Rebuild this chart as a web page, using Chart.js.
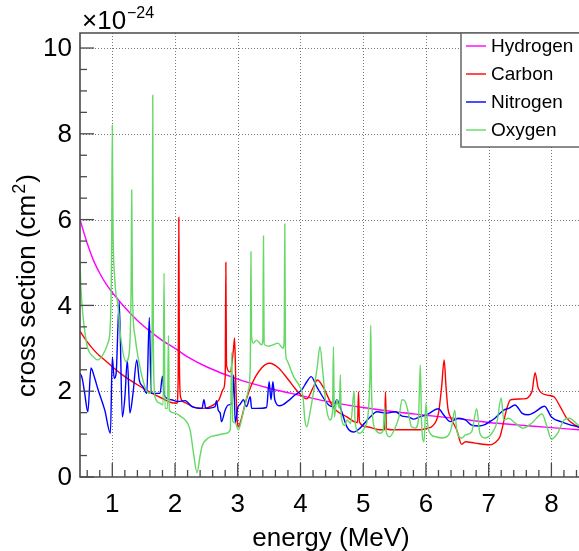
<!DOCTYPE html>
<html>
<head>
<meta charset="utf-8">
<script src="https://cdn.jsdelivr.net/npm/chart.js@4"></script>
<style>
  html, body { margin: 0; padding: 0; background: #fff; }
  canvas { display: block; }
</style>
</head>
<body>
<canvas id="grafico" width="579" height="551"></canvas>
<script>
// valores (energia em MeV, secao de choque em 1e-24 cm2)
const seriesNames = ["Hydrogen", "Carbon", "Nitrogen", "Oxygen"];
const seriesColors = ["#ff00ff", "#ff0000", "#0000ff", "#66d866"];

const energyH = [0.485, 0.6, 0.7, 0.8, 0.9, 1.0, 1.2, 1.4, 1.6, 1.8, 2.0, 2.2, 2.5, 3.0, 3.5, 4.0, 4.5, 5.0, 5.5, 6.0, 6.5, 7.0, 7.5, 8.0, 8.44];
const hydrogen = [6.0, 5.45, 5.05, 4.75, 4.5, 4.3, 3.95, 3.65, 3.4, 3.18, 3.0, 2.8, 2.57, 2.28, 2.07, 1.9, 1.74, 1.62, 1.52, 1.44, 1.36, 1.27, 1.21, 1.15, 1.1];

const energyC = [0.485, 0.6, 0.7, 0.8, 0.9, 1.0, 1.2, 1.4, 1.6, 1.8, 1.95, 2.03, 2.05, 2.06, 2.07, 2.09, 2.15, 2.3, 2.45, 2.6, 2.7, 2.77, 2.8, 2.81, 2.82, 2.88, 2.93, 2.95, 2.97, 2.99, 3.01, 3.05, 3.12, 3.22, 3.38, 3.51, 3.65, 3.81, 3.95, 4.1, 4.2, 4.27, 4.36, 4.52, 4.74, 4.91, 4.925, 4.94, 5.06, 5.27, 5.34, 5.355, 5.37, 5.54, 5.91, 6.0, 6.12, 6.2, 6.25, 6.29, 6.32, 6.35, 6.39, 6.49, 6.57, 6.63, 6.78, 7.02, 7.1, 7.18, 7.21, 7.29, 7.35, 7.55, 7.69, 7.74, 7.79, 7.93, 8.04, 8.14, 8.25, 8.44];
const carbon = [3.4, 3.15, 2.97, 2.82, 2.7, 2.57, 2.34, 2.15, 1.98, 1.83, 1.73, 1.72, 2.3, 6.05, 2.6, 1.85, 1.74, 1.63, 1.6, 1.67, 1.8, 2.05, 2.35, 5.0, 2.6, 2.45, 2.95, 3.24, 2.1, 1.35, 1.17, 1.32, 1.72, 2.15, 2.54, 2.65, 2.54, 2.26, 2.0, 1.82, 2.08, 2.26, 2.1, 1.63, 1.4, 1.27, 1.98, 1.28, 1.17, 1.1, 1.1, 1.98, 1.12, 1.1, 1.1, 1.13, 1.21, 1.49, 2.1, 2.73, 2.1, 1.6, 1.4, 1.1, 0.76, 0.82, 0.79, 0.75, 0.8, 0.94, 1.1, 1.6, 1.8, 1.82, 1.99, 2.43, 2.07, 1.91, 1.87, 1.64, 1.36, 1.15];

const energyN = [0.485, 0.52, 0.56, 0.61, 0.66, 0.72, 0.77, 0.88, 0.97, 1.0, 1.03, 1.06, 1.11, 1.16, 1.2, 1.24, 1.28, 1.33, 1.39, 1.43, 1.49, 1.55, 1.59, 1.62, 1.7, 1.76, 1.8, 1.83, 1.94, 2.05, 2.16, 2.27, 2.43, 2.46, 2.49, 2.64, 2.66, 2.69, 2.72, 2.74, 2.8, 2.85, 2.91, 2.935, 2.96, 3.0, 3.04, 3.09, 3.14, 3.2, 3.22, 3.3, 3.46, 3.5, 3.53, 3.56, 3.59, 3.67, 3.81, 3.91, 4.02, 4.1, 4.17, 4.26, 4.45, 4.53, 4.58, 4.64, 4.74, 4.85, 4.95, 5.11, 5.22, 5.38, 5.51, 5.62, 5.72, 5.8, 5.9, 6.01, 6.2, 6.28, 6.39, 6.52, 6.63, 6.73, 6.84, 6.94, 7.02, 7.1, 7.24, 7.32, 7.42, 7.53, 7.63, 7.74, 7.89, 8.0, 8.15, 8.31, 8.44];
const nitrogen = [2.42, 2.3, 1.95, 1.52, 2.54, 2.3, 2.05, 1.56, 1.02, 2.8, 2.3, 2.4, 4.09, 1.4, 1.85, 2.73, 1.49, 1.95, 2.73, 2.26, 2.1, 1.95, 3.72, 1.95, 1.95, 1.95, 2.35, 1.9, 1.8, 1.76, 1.78, 1.64, 1.6, 1.8, 1.6, 1.64, 1.78, 1.55, 1.49, 1.29, 1.56, 1.68, 1.72, 2.38, 1.26, 1.62, 1.7, 1.8, 1.64, 1.87, 1.6, 1.6, 1.62, 2.22, 1.8, 2.22, 1.8, 1.66, 1.78, 1.91, 2.03, 2.22, 2.34, 2.1, 1.68, 1.64, 1.8, 1.6, 1.17, 1.05, 1.14, 1.4, 1.52, 1.49, 1.52, 1.42, 1.4, 1.35, 1.4, 1.45, 1.59, 1.45, 1.29, 1.37, 1.33, 1.21, 1.19, 1.22, 1.29, 1.37, 1.56, 1.6, 1.68, 1.49, 1.45, 1.52, 1.65, 1.4, 1.29, 1.21, 1.17];

const energyO = [0.485, 0.5, 0.53, 0.6, 0.7, 0.77, 0.85, 0.93, 0.97, 0.99, 1.0, 1.01, 1.04, 1.09, 1.14, 1.22, 1.27, 1.3, 1.31, 1.32, 1.36, 1.41, 1.52, 1.6, 1.635, 1.645, 1.655, 1.68, 1.76, 1.81, 1.825, 1.84, 1.88, 1.895, 1.91, 2.0, 2.1, 2.16, 2.24, 2.3, 2.35, 2.4, 2.43, 2.53, 2.69, 2.82, 2.88, 2.905, 2.92, 2.96, 3.01, 3.06, 3.12, 3.17, 3.2, 3.21, 3.22, 3.25, 3.3, 3.38, 3.4, 3.41, 3.42, 3.48, 3.56, 3.64, 3.72, 3.74, 3.75, 3.76, 3.78, 3.89, 3.99, 4.04, 4.07, 4.1, 4.15, 4.21, 4.27, 4.31, 4.36, 4.41, 4.47, 4.51, 4.525, 4.54, 4.58, 4.62, 4.635, 4.65, 4.71, 4.74, 4.8, 4.855, 4.87, 4.94, 5.02, 5.08, 5.11, 5.12, 5.13, 5.15, 5.2, 5.27, 5.32, 5.34, 5.36, 5.42, 5.51, 5.57, 5.62, 5.67, 5.72, 5.77, 5.83, 5.88, 5.91, 5.93, 5.97, 6.0, 6.03, 6.09, 6.15, 6.25, 6.36, 6.41, 6.46, 6.49, 6.57, 6.63, 6.73, 6.81, 6.86, 6.94, 7.05, 7.13, 7.2, 7.24, 7.32, 7.42, 7.55, 7.69, 7.85, 7.93, 8.0, 8.1, 8.2, 8.28, 8.44];
const oxygen = [5.0, 4.4, 3.8, 3.05, 2.8, 2.73, 2.85, 3.12, 3.6, 5.5, 8.2, 6.0, 4.6, 4.0, 3.19, 2.69, 2.9, 4.5, 6.69, 4.4, 3.3, 2.8, 2.1, 1.95, 3.5, 8.9, 3.0, 1.87, 1.72, 1.68, 4.75, 1.6, 1.6, 3.3, 1.55, 1.49, 1.4, 1.33, 1.1, 0.5, 0.1, 0.5, 0.71, 0.91, 0.98, 1.02, 1.1, 2.9, 1.3, 1.26, 1.1, 1.33, 1.72, 2.03, 2.65, 5.25, 3.3, 3.12, 3.19, 3.08, 3.2, 5.62, 3.1, 3.05, 3.08, 3.12, 3.0, 3.2, 5.9, 3.0, 2.73, 2.34, 2.1, 1.87, 1.33, 1.17, 1.49, 2.0, 2.6, 3.04, 2.38, 1.64, 1.33, 1.5, 3.04, 1.4, 1.8, 1.6, 2.38, 1.4, 1.2, 1.33, 1.25, 2.0, 1.3, 1.02, 1.15, 1.5, 2.5, 3.54, 2.2, 1.4, 1.1, 1.02, 1.1, 1.64, 1.1, 0.94, 1.15, 1.4, 1.8, 1.76, 1.49, 1.17, 1.14, 1.33, 2.61, 1.3, 0.82, 1.72, 1.2, 0.98, 0.94, 0.91, 0.98, 1.17, 1.56, 1.1, 0.91, 0.98, 1.06, 1.59, 1.02, 0.91, 1.02, 1.26, 1.84, 1.33, 1.37, 1.26, 1.14, 1.26, 1.47, 1.17, 0.88, 1.02, 1.33, 1.37, 1.19];

const xTicks = [1, 2, 3, 4, 5, 6, 7, 8];
const xTickLabels = ["1", "2", "3", "4", "5", "6", "7", "8"];
const yTicks = [0, 2, 4, 6, 8, 10];
const yTickLabels = ["0", "2", "4", "6", "8", "10"];

const FONT = '"Liberation Sans", Arial, Helvetica, sans-serif';
const FRAME = "#4a4a4a";

function pontos(xs, ys) {
    return xs.map((x, i) => ({ x: x, y: ys[i] }));
}

const energias = [energyH, energyC, energyN, energyO];
const valores = [hydrogen, carbon, nitrogen, oxygen];

const datasets = seriesNames.map((nome, i) => ({
    label: nome,
    data: pontos(energias[i], valores[i]),
    borderColor: seriesColors[i],
    borderWidth: 1.4,
    pointRadius: 0,
    cubicInterpolationMode: "monotone",
    fill: false,
    order: 4 - i
}));

// grade pontilhada por baixo das curvas
const gradePlugin = {
    id: "grade",
    beforeDraw(chart) {
        const c = chart.ctx;
        c.save();
        c.fillStyle = "#fff";
        c.fillRect(0, 0, chart.width, chart.height);
        c.restore();
    },
    beforeDatasetsDraw(chart) {
        const c = chart.ctx;
        const a = chart.chartArea;
        const sx = chart.scales.x;
        const sy = chart.scales.y;
        c.save();
        c.strokeStyle = "#777";
        c.lineWidth = 1;
        c.setLineDash([1, 2]);
        xTicks.forEach(v => {
            const px = Math.round(sx.getPixelForValue(v)) + 0.5;
            c.beginPath();
            c.moveTo(px, a.top);
            c.lineTo(px, a.bottom);
            c.stroke();
        });
        yTicks.forEach(v => {
            if (v === 0) return;
            const py = Math.round(sy.getPixelForValue(v)) + 0.5;
            c.beginPath();
            c.moveTo(a.left, py);
            c.lineTo(a.right, py);
            c.stroke();
        });
        c.restore();
    }
};

// moldura, marcas, rotulos, titulos e legenda
const eixosPlugin = {
    id: "eixos",
    afterDatasetsDraw(chart) {
        const c = chart.ctx;
        const a = chart.chartArea;
        const sx = chart.scales.x;
        const sy = chart.scales.y;
        c.save();

        c.strokeStyle = FRAME;
        c.lineWidth = 1.6;
        c.beginPath();
        c.moveTo(a.right + 5, a.top);
        c.lineTo(a.left, a.top);
        c.lineTo(a.left, a.bottom);
        c.lineTo(a.right + 5, a.bottom);
        c.stroke();

        // marcas menores e maiores
        c.lineWidth = 1.3;
        for (let v = 0; v <= sy.max; v += 0.5) {
            const py = sy.getPixelForValue(v);
            const major = Math.abs(v / 2 - Math.round(v / 2)) < 1e-6;
            c.beginPath();
            c.moveTo(a.left, py);
            c.lineTo(a.left + (major ? 14 : 7), py);
            c.stroke();
        }
        for (let v = 0.6; v <= sx.max; v += 0.2) {
            const px = sx.getPixelForValue(v);
            const major = Math.abs(v - Math.round(v)) < 1e-6;
            c.beginPath();
            c.moveTo(px, a.bottom);
            c.lineTo(px, a.bottom - (major ? 14 : 7));
            c.stroke();
        }

        c.fillStyle = "#000";
        c.font = "26px " + FONT;
        c.textAlign = "right";
        c.textBaseline = "middle";
        yTicks.forEach((v, i) => {
            c.fillText(yTickLabels[i], 72, sy.getPixelForValue(v) + 1);
        });
        c.textAlign = "center";
        c.textBaseline = "alphabetic";
        xTicks.forEach((v, i) => {
            c.fillText(xTickLabels[i], sx.getPixelForValue(v), 512);
        });

        // titulo do eixo x
        c.fillText("energy (MeV)", (a.left + 582) / 2, 546);

        // titulo do eixo y com expoente
        c.save();
        c.translate(35, 397);
        c.rotate(-Math.PI / 2);
        c.textAlign = "left";
        c.font = "26px " + FONT;
        const parte1 = "cross section (cm";
        c.fillText(parte1, 0, 0);
        let w = c.measureText(parte1).width;
        c.font = "18px " + FONT;
        c.fillText("2", w + 1, -10);
        w += c.measureText("2").width + 2;
        c.font = "26px " + FONT;
        c.fillText(")", w, 0);
        c.restore();

        // multiplicador
        c.textAlign = "left";
        c.font = "26px " + FONT;
        c.fillText("\u00d710", 82, 29);
        c.font = "16px " + FONT;
        c.fillText("\u221224", 127, 18);

        // legenda
        c.fillStyle = "#fff";
        c.fillRect(461, 33, 130, 114);
        c.strokeStyle = "#666";
        c.lineWidth = 1.5;
        c.strokeRect(461, 33, 130, 114);
        const linhas = [46, 74, 102, 130];
        c.font = "19px " + FONT;
        c.textBaseline = "middle";
        chart.data.datasets.forEach((d, i) => {
            const y = linhas[i];
            c.strokeStyle = d.borderColor;
            c.lineWidth = 1.4;
            c.beginPath();
            c.moveTo(466, y);
            c.lineTo(486, y);
            c.stroke();
            c.fillStyle = "#000";
            c.fillText(d.label, 491, y + 1);
        });

        c.restore();
    }
};

new Chart(document.getElementById("grafico").getContext("2d"), {
    type: "line",
    data: { datasets: datasets },
    options: {
        responsive: false,
        animation: false,
        devicePixelRatio: 1,
        layout: { padding: { left: 80, top: 33, right: 0, bottom: 74 } },
        plugins: { legend: { display: false }, tooltip: { enabled: false } },
        scales: {
            x: { type: "linear", min: 0.485, max: 8.44, display: false },
            y: { type: "linear", min: 0, max: 10.35, display: false }
        }
    },
    plugins: [gradePlugin, eixosPlugin]
});
</script>
</body>
</html>
